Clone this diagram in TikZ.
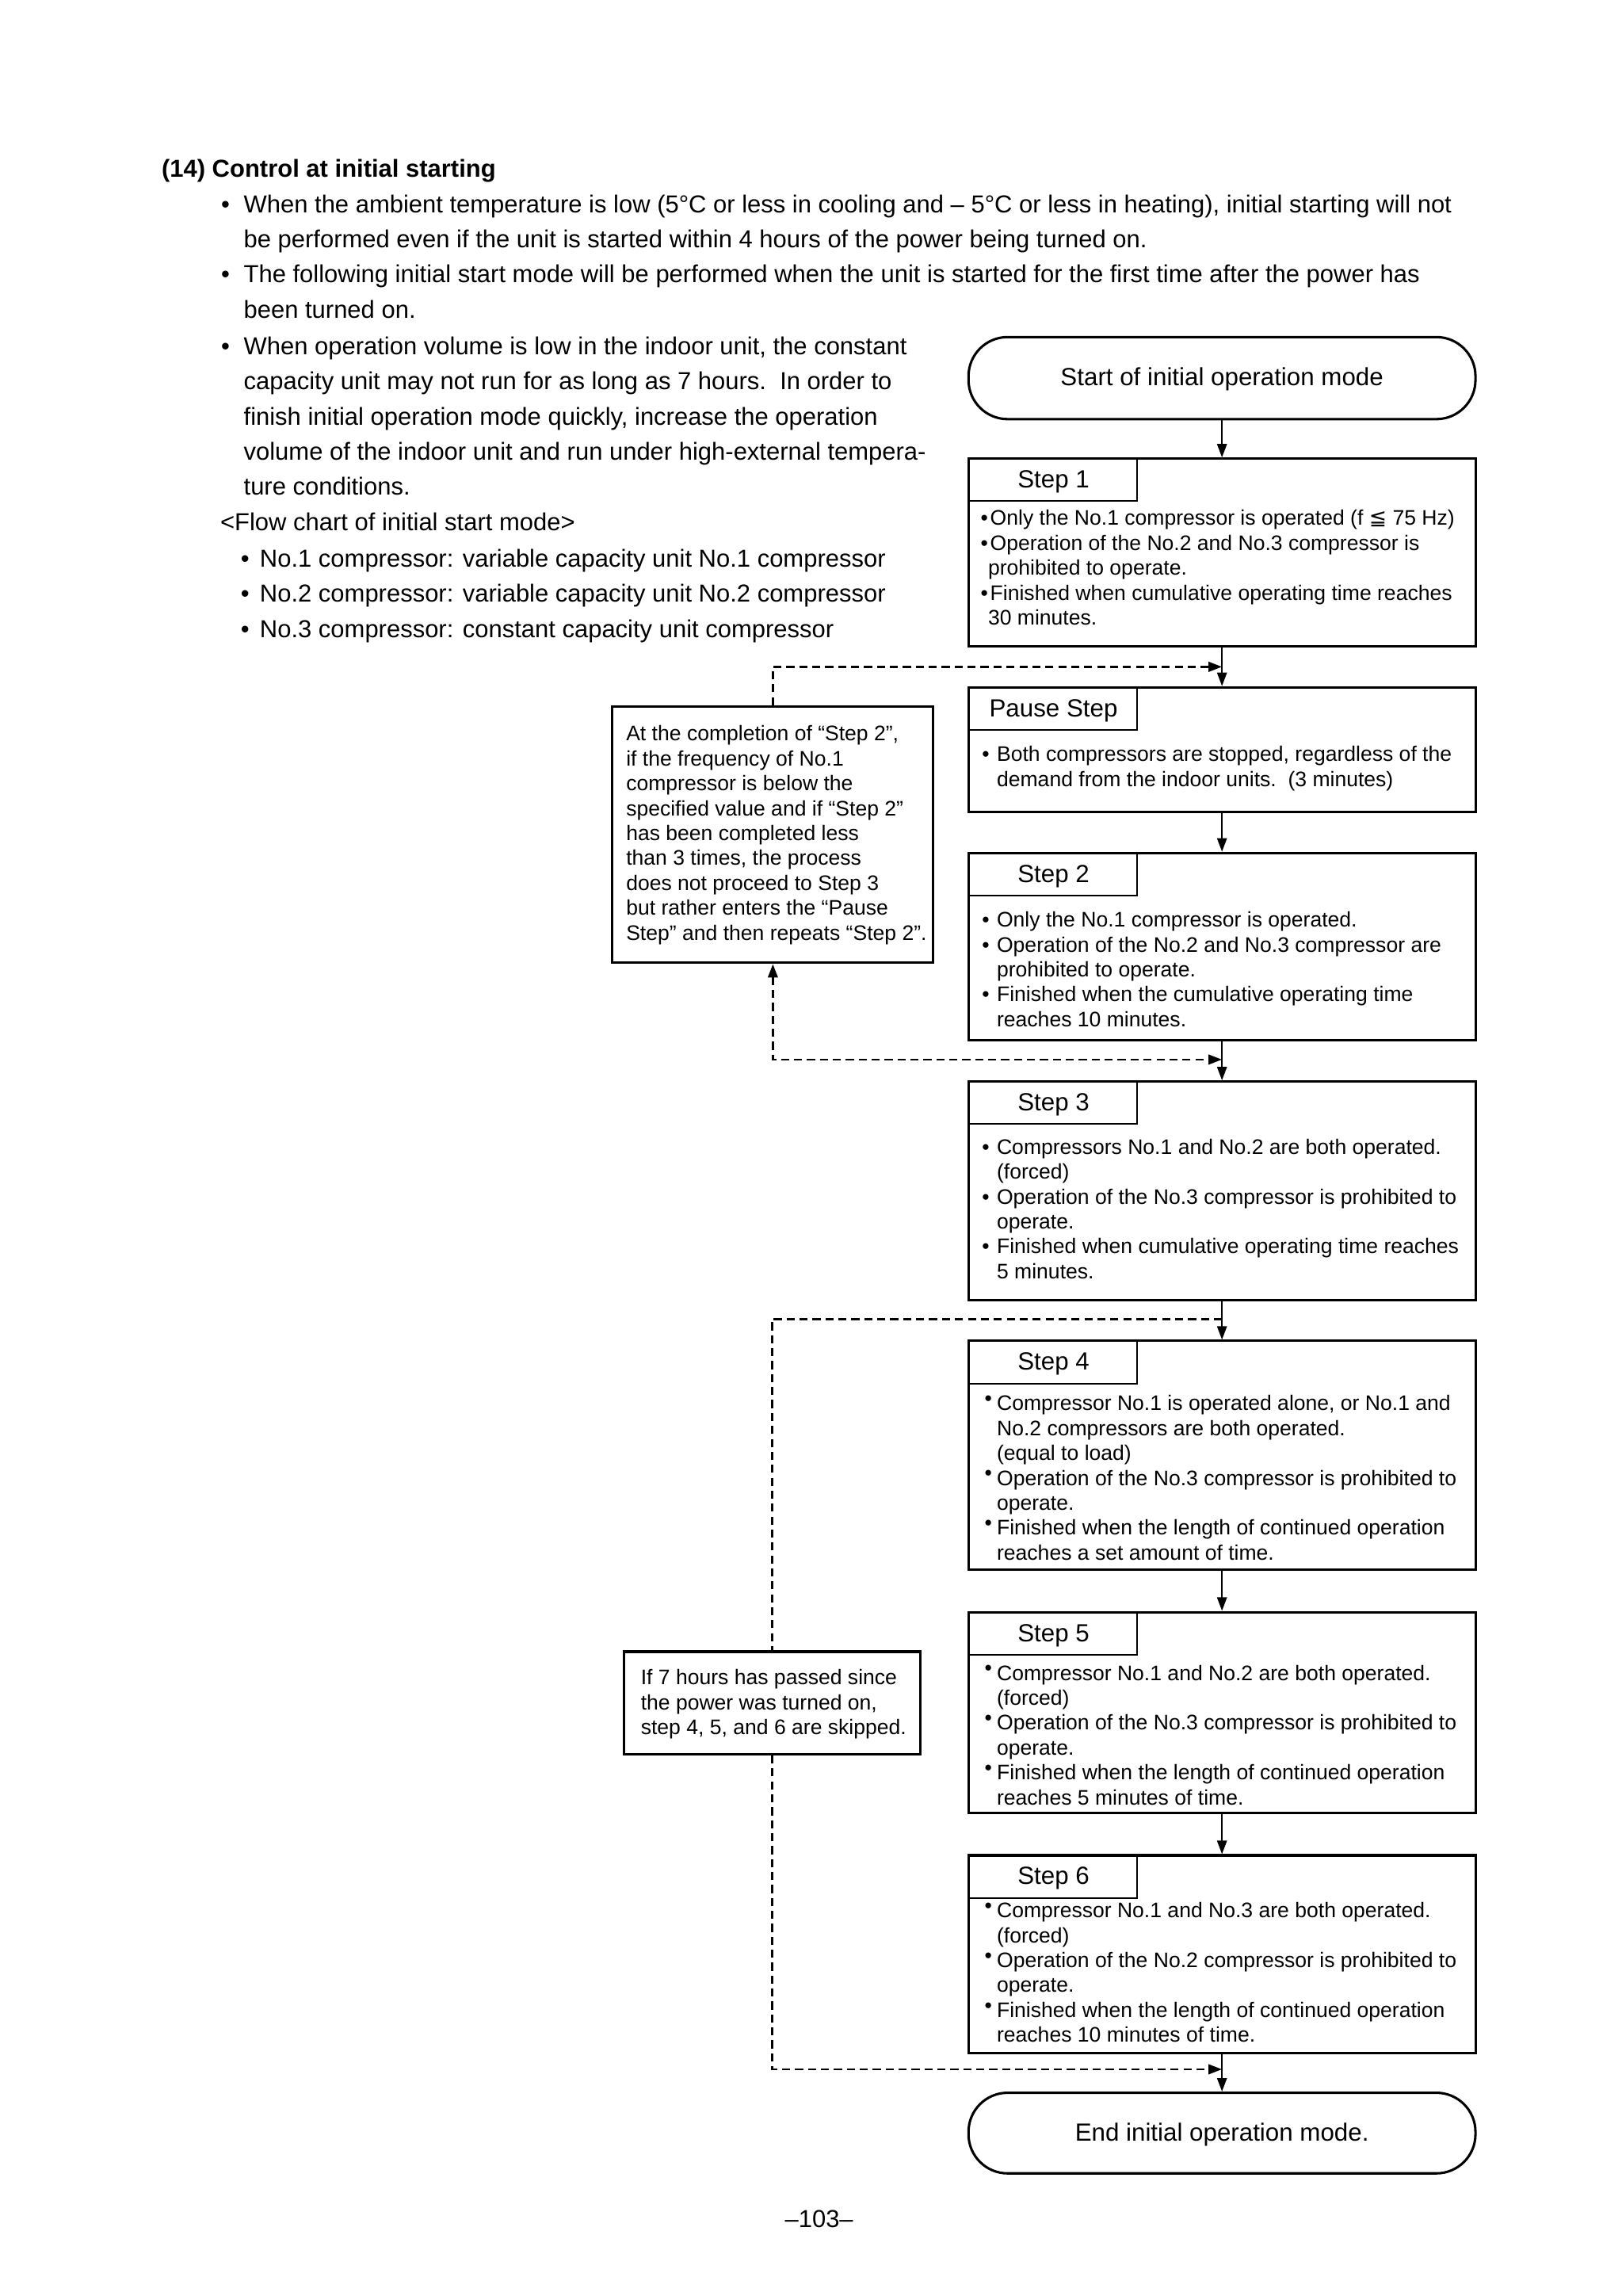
\documentclass[tikz,border=0pt]{standalone}
\usepackage{fontspec}
\setmainfont{Liberation Sans}
\newfontfamily\dejavu{DejaVu Sans}
\usetikzlibrary{arrows.meta,fit}
\newcommand\bz{\llap{•}\hspace*{0.8pt}}
\newcommand\bu{\llap{•\hspace{2.8pt}}}
\newcommand\bur{\llap{\raisebox{1.8pt}{•}\hspace{1.8pt}}}
\newcommand\bb{\llap{•\hspace{5.2pt}}}
\newcommand\bl{\llap{•\hspace{3.9pt}}}
\newcommand\boxlines[4]{%
  \foreach \t [count=\i from 0] in {#4}
    \node[btxt] (#1\i) at (#2, {#3+17*\i}) {\t};%
}
\tikzset{
  body/.style={font=\fontsize{9.1}{13}\selectfont, anchor=base west, inner sep=0},
  btxt/.style={font=\fontsize{7.8}{9.2}\selectfont, anchor=base west, inner sep=0},
  hdr/.style={font=\fontsize{9.2}{11}\selectfont, anchor=base, inner sep=0},
  box/.style={draw, line width=0.9pt, inner sep=0},
  tabbox/.style={draw, line width=0.6pt, inner sep=0},
  term/.style={draw, line width=0.9pt, rounded corners=14.5pt, inner sep=0},
  flow/.style={line width=0.6pt, -{Triangle[length=5pt,width=3.6pt]}},
  dflow/.style={line width=0.8pt, dash pattern=on 3pt off 1.8pt},
  tip/.style={-{Triangle[length=5pt,width=3.6pt]}},
}
\begin{document}
\begin{tikzpicture}[x=0.54318pt,y=-0.54318pt]
\useasboundingbox (0,0) rectangle (1107,1566.7);

% ---------- introductory text ----------
\node[body] (title) at (110,121) {\bfseries (14) Control at initial starting};
\node[body] (p1) at (166,145) {\bb When the ambient temperature is low (5°C or less in cooling and – 5°C or less in heating), initial starting will not};
\node[body] (p2) at (166,169) {be performed even if the unit is started within 4 hours of the power being turned on.};
\node[body] (p3) at (166,193) {\bb The following initial start mode will be performed when the unit is started for the first time after the power has};
\node[body] (p4) at (166,217) {been turned on.};
\node[body] (p5) at (166,242) {\bb When operation volume is low in the indoor unit, the constant};
\node[body] (p6) at (166,266) {capacity unit may not run for as long as 7 hours.\ \ In order to};
\node[body] (p7) at (166,290) {finish initial operation mode quickly, increase the operation};
\node[body] (p8) at (166,314) {volume of the indoor unit and run under high-external tempera-};
\node[body] (p9) at (166,338) {ture conditions.};
\node[body] (p10) at (150,362) {<Flow chart of initial start mode>};
\node[body] (p11) at (177,387) {\bl No.1 compressor: variable capacity unit No.1 compressor};
\node[body] (p12) at (177,411) {\bl No.2 compressor: variable capacity unit No.2 compressor};
\node[body] (p13) at (177,435) {\bl No.3 compressor: constant capacity unit compressor};

% ---------- terminals ----------
\node[term, fit={(661,230) (1007,286)}] (start) {};
\node[hdr] (startt) at (834,263) {Start of initial operation mode};
\node[term, fit={(661,1428) (1007,1483)}] (end) {};
\node[hdr] (endt) at (834,1461) {End initial operation mode.};

% ---------- step boxes ----------
\node[box, fit={(661,313) (1007,441)}] (s1) {};
\node[tabbox, fit={(661,313) (776,342)}] (s1tab) {};
\node[hdr] (s1h) at (719,333) {Step 1};
\boxlines{s1l}{674}{358.5}{{\bz Only the No.1 compressor is operated (f {\dejavu ≦} 75 Hz)},{\bz Operation of the No.2 and No.3 compressor is},{prohibited to operate.},{\bz Finished when cumulative operating time reaches},{30 minutes.}}

\node[box, fit={(661,469) (1007,554)}] (ps) {};
\node[tabbox, fit={(661,469) (776,498)}] (pstab) {};
\node[hdr] (psh) at (719,489) {Pause Step};
\boxlines{psl}{680}{519.5}{{\bu Both compressors are stopped, regardless of the},{demand from the indoor units.\ \ (3 minutes)}}

\node[box, fit={(661,582) (1007,710)}] (s2) {};
\node[tabbox, fit={(661,582) (776,611)}] (s2tab) {};
\node[hdr] (s2h) at (719,602) {Step 2};
\boxlines{s2l}{680}{632.5}{{\bu Only the No.1 compressor is operated.},{\bu Operation of the No.2 and No.3 compressor are},{prohibited to operate.},{\bu Finished when the cumulative operating time},{reaches 10 minutes.}}

\node[box, fit={(661,738) (1007,887)}] (s3) {};
\node[tabbox, fit={(661,738) (776,767)}] (s3tab) {};
\node[hdr] (s3h) at (719,758) {Step 3};
\boxlines{s3l}{680}{787.5}{{\bu Compressors No.1 and No.2 are both operated.},{(forced)},{\bu Operation of the No.3 compressor is prohibited to},{operate.},{\bu Finished when cumulative operating time reaches},{5 minutes.}}

\node[box, fit={(661,915) (1007,1071)}] (s4) {};
\node[tabbox, fit={(661,915) (776,944)}] (s4tab) {};
\node[hdr] (s4h) at (719,935) {Step 4};
\boxlines{s4l}{680}{962.5}{{\bur Compressor No.1 is operated alone, or No.1 and},{No.2 compressors are both operated.},{(equal to load)},{\bur Operation of the No.3 compressor is prohibited to},{operate.},{\bur Finished when the length of continued operation},{reaches a set amount of time.}}

\node[box, fit={(661,1100) (1007,1237)}] (s5) {};
\node[tabbox, fit={(661,1100) (776,1129)}] (s5tab) {};
\node[hdr] (s5h) at (719,1120) {Step 5};
\boxlines{s5l}{680}{1146.5}{{\bur Compressor No.1 and No.2 are both operated.},{(forced)},{\bur Operation of the No.3 compressor is prohibited to},{operate.},{\bur Finished when the length of continued operation},{reaches 5 minutes of time.}}

\node[box, fit={(661,1266) (1007,1401)}] (s6) {};
\node[tabbox, fit={(661,1266) (776,1295)}] (s6tab) {};
\node[hdr] (s6h) at (719,1286) {Step 6};
\boxlines{s6l}{680}{1308.5}{{\bur Compressor No.1 and No.3 are both operated.},{(forced)},{\bur Operation of the No.2 compressor is prohibited to},{operate.},{\bur Finished when the length of continued operation},{reaches 10 minutes of time.}}

% ---------- notes ----------
\node[box, fit={(418,482) (637,657)}] (n1) {};
\boxlines{n1l}{427}{505.5}{{At the completion of “Step 2”,},{if the frequency of No.1},{compressor is below the},{specified value and if “Step 2”},{has been completed less},{than 3 times, the process},{does not proceed to Step 3},{but rather enters the “Pause},{Step” and then repeats “Step 2”.}}

\node[box, fit={(426,1127) (628,1197)}] (n2) {};
\boxlines{n2l}{437}{1149.5}{{If 7 hours has passed since},{the power was turned on,},{step 4, 5, and 6 are skipped.}}

% ---------- junctions ----------
\coordinate (j1) at (834,455);
\coordinate (j2) at (834,723);
\coordinate (j3) at (834,900);
\coordinate (j4) at (834,1412);

% ---------- main flow ----------
\draw[flow] (start) -- (s1);
\draw[flow] (s1) -- (ps);
\draw[flow] (ps) -- (s2);
\draw[flow] (s2) -- (s3);
\draw[flow] (s3) -- (s4);
\draw[flow] (s4) -- (s5);
\draw[flow] (s5) -- (s6);
\draw[flow] (s6) -- (end);

% ---------- dashed loops ----------
\draw[dflow, tip] (n1.north) |- (j1);
\draw[dflow, {Triangle[length=5pt,width=3.6pt]}-{Triangle[length=5pt,width=3.6pt]}] (n1.south) |- (j2);
\draw[dflow] (j3) -| (n2.north);
\draw[dflow, tip] (n2.south) |- (j4);

% ---------- page number ----------
\node[body, anchor=base] (page) at (559,1520) {–103–};
\end{tikzpicture}
\end{document}
